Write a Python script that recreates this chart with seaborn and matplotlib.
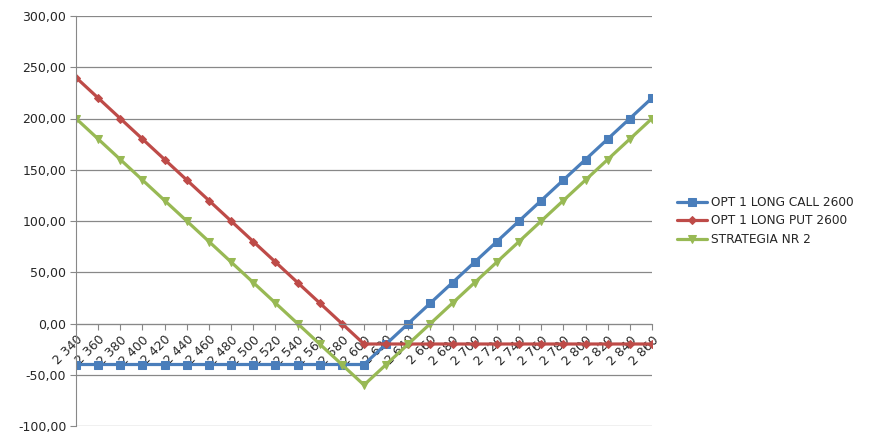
import pandas as pd
import seaborn as sns
import matplotlib.pyplot as plt
from matplotlib.ticker import FuncFormatter

# Underlying prices (x axis categories)
strikes = [2340, 2360, 2380, 2400, 2420, 2440, 2460, 2480, 2500, 2520, 2540, 2560, 2580,
           2600, 2620, 2640, 2660, 2680, 2700, 2720, 2740, 2760, 2780, 2800, 2820, 2840, 2860]

# Payoff of each position
long_call = [-40, -40, -40, -40, -40, -40, -40, -40, -40, -40, -40, -40, -40,
             -40, -20, 0, 20, 40, 60, 80, 100, 120, 140, 160, 180, 200, 220]
long_put = [240, 220, 200, 180, 160, 140, 120, 100, 80, 60, 40, 20, 0,
            -20, -20, -20, -20, -20, -20, -20, -20, -20, -20, -20, -20, -20, -20]
strategy = [200, 180, 160, 140, 120, 100, 80, 60, 40, 20, 0, -20, -40,
            -60, -40, -20, 0, 20, 40, 60, 80, 100, 120, 140, 160, 180, 200]

series_names = ['OPT 1 LONG CALL 2600', 'OPT 1 LONG PUT 2600', 'STRATEGIA NR 2']
colors = ['#4a7ebb', '#be4b48', '#98b954']
markers = ['s', 'D', 'v']
msizes = [6, 4, 6]

df = pd.DataFrame({'Strike': strikes, series_names[0]: long_call,
                   series_names[1]: long_put, series_names[2]: strategy})

sns.set_style('white')
plt.rcParams['font.family'] = ['DejaVu Sans']

fig = plt.figure(figsize=(8.74, 4.42), dpi=100)
ax = fig.add_axes([76 / 874, 16 / 442, (652 - 76) / 874, (426 - 16) / 442])

# move the category axis to y = 0 first (this resets tick settings)
for s in ['top', 'right']:
    ax.spines[s].set_visible(False)
ax.spines['left'].set_color('#888888')
ax.spines['bottom'].set_color('#888888')
ax.spines['bottom'].set_position(('data', 0))

for name, c, m, ms in zip(series_names, colors, markers, msizes):
    sns.lineplot(data=df, x='Strike', y=name, ax=ax, color=c, marker=m, markersize=ms,
                 markeredgecolor=c, linewidth=2.3, label=name)

ax.set_xlim(2340, 2860)
ax.set_ylim(-100, 300)
ax.set_yticks(range(-100, 301, 50))
ax.yaxis.set_major_formatter(FuncFormatter(lambda v, p: f'{v:.2f}'.replace('.', ',')))
ax.set_xticks(strikes)
ax.set_xticklabels([f'{s // 1000} {s % 1000:03d}' for s in strikes])
for lab in ax.get_xticklabels():
    lab.set_rotation(45)
    lab.set_ha('right')
    lab.set_va('top')
    lab.set_rotation_mode('anchor')
ax.set_xlabel('')
ax.set_ylabel('')

ax.grid(axis='y', color='#888888', linewidth=0.9)
ax.set_axisbelow(True)
ax.tick_params(axis='both', which='major', labelsize=9, length=4, color='#888888',
               direction='out', left=True, bottom=True, pad=3)

ax.legend(loc='center left', bbox_to_anchor=(1.035, 0.5), frameon=False, fontsize=8.7,
          borderaxespad=0, handlelength=2.5, handletextpad=0.35, labelspacing=0.45)

fig.savefig('out.png', dpi=100)
